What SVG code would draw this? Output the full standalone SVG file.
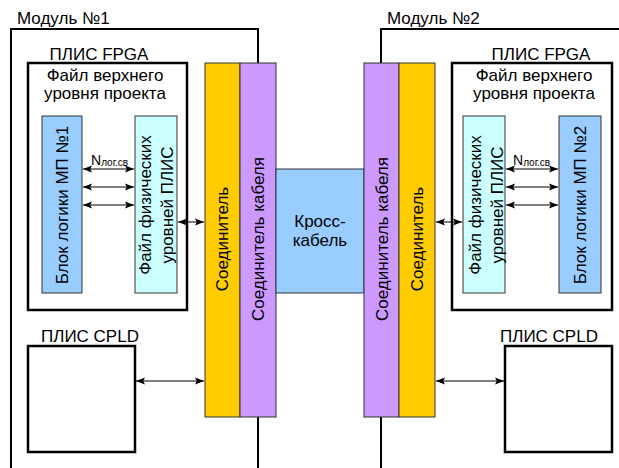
<svg xmlns="http://www.w3.org/2000/svg" width="619" height="468" viewBox="0 0 619 468">
<style>
text{font-family:"Liberation Sans",Arial,sans-serif;font-size:17px;fill:#000}
.frame{fill:none;stroke:#000;stroke-width:2}
.box{fill:#fff;stroke:#000;stroke-width:2.5}
.blk{stroke:#333;stroke-width:1}
.blue{fill:#99ccff}
.cyan{fill:#ccffff}
.yel{fill:#ffcc00}
.pur{fill:#cc99ff}
.arr{stroke:#000;stroke-width:1;fill:none;marker-start:url(#ah);marker-end:url(#ah)}
.n{font-size:14px}
.sub{font-size:10px}
</style>
<defs>
<marker id="ah" viewBox="0 0 10 10" refX="10" refY="5" markerWidth="9" markerHeight="9" markerUnits="userSpaceOnUse" orient="auto-start-reverse">
<path d="M0,1 L10,5 L0,9 L2,5 Z" fill="#000"/>
</marker>
</defs>
<g id="module1">
<path class="frame" d="M11,468 V29 H258 V63 M258,417 V468"/>
<text x="17" y="24">Модуль №1</text>
</g>
<g id="module2">
<path class="frame" d="M381,63 V29 H621 M381,417 V468"/>
<text x="387" y="24">Модуль №2</text>
</g>
<g id="fpga1">
<rect class="box" x="28" y="63" width="159" height="247"/>
<text x="99" y="60" text-anchor="middle">ПЛИС FPGA</text>
<text x="105" y="81" text-anchor="middle">Файл верхнего</text>
<text x="105" y="99" text-anchor="middle">уровня проекта</text>
</g>
<g id="logic1">
<rect class="blk blue" x="42" y="116" width="40" height="177"/>
<text transform="translate(68,205) rotate(-90)" text-anchor="middle">Блок логики МП №1</text>
</g>
<g id="phys1">
<rect class="blk cyan" x="135" y="116" width="42" height="177"/>
<text transform="translate(151,205) rotate(-90)" text-anchor="middle">Файл физических</text>
<text transform="translate(173,205) rotate(-90)" text-anchor="middle">уровней ПЛИС</text>
</g>
<g id="conn1">
<rect class="blk yel" x="205" y="63" width="35" height="354"/>
<text transform="translate(228,239) rotate(-90)" text-anchor="middle">Соединитель</text>
</g>
<g id="cable1">
<rect class="blk pur" x="240" y="63" width="36" height="354"/>
<text transform="translate(264,239) rotate(-90)" text-anchor="middle">Соединитель кабеля</text>
</g>
<g id="cross">
<rect class="blk blue" x="276" y="169" width="88" height="124"/>
<text x="320" y="227" text-anchor="middle">Кросс-</text>
<text x="320" y="246" text-anchor="middle">кабель</text>
</g>
<g id="cable2">
<rect class="blk pur" x="364" y="63" width="35" height="354"/>
<text transform="translate(388,239) rotate(-90)" text-anchor="middle">Соединитель кабеля</text>
</g>
<g id="conn2">
<rect class="blk yel" x="399" y="63" width="36" height="354"/>
<text transform="translate(423,239) rotate(-90)" text-anchor="middle">Соединитель</text>
</g>
<g id="fpga2">
<rect class="box" x="452" y="63" width="160" height="247"/>
<text x="541" y="60" text-anchor="middle">ПЛИС FPGA</text>
<text x="534" y="81" text-anchor="middle">Файл верхнего</text>
<text x="534" y="99" text-anchor="middle">уровня проекта</text>
</g>
<g id="phys2">
<rect class="blk cyan" x="463" y="116" width="42" height="177"/>
<text transform="translate(481,205) rotate(-90)" text-anchor="middle">Файл физических</text>
<text transform="translate(503,205) rotate(-90)" text-anchor="middle">уровней ПЛИС</text>
</g>
<g id="logic2">
<rect class="blk blue" x="559" y="116" width="42" height="177"/>
<text transform="translate(586,205) rotate(-90)" text-anchor="middle">Блок логики МП №2</text>
</g>
<g id="cpld1">
<rect class="box" x="28" y="346" width="107" height="106"/>
<text x="41" y="342">ПЛИС CPLD</text>
</g>
<g id="cpld2">
<rect class="box" x="505" y="346" width="107" height="106"/>
<text x="500" y="342">ПЛИС CPLD</text>
</g>
<g id="labels">
<text class="n" x="91" y="165">N<tspan class="sub" dy="1">лог.св</tspan></text>
<text class="n" x="513" y="165">N<tspan class="sub" dy="1">лог.св</tspan></text>
</g>
<g id="connectors">
<line class="arr" x1="83" y1="169" x2="134" y2="169"/>
<line class="arr" x1="83" y1="187" x2="134" y2="187"/>
<line class="arr" x1="83" y1="205" x2="134" y2="205"/>
<line class="arr" x1="178" y1="222" x2="204" y2="222"/>
<line class="arr" x1="136" y1="381" x2="204" y2="381"/>
<line class="arr" x1="506" y1="169" x2="558" y2="169"/>
<line class="arr" x1="506" y1="187" x2="558" y2="187"/>
<line class="arr" x1="506" y1="205" x2="558" y2="205"/>
<line class="arr" x1="436" y1="222" x2="462" y2="222"/>
<line class="arr" x1="436" y1="381" x2="504" y2="381"/>
</g>
</svg>
